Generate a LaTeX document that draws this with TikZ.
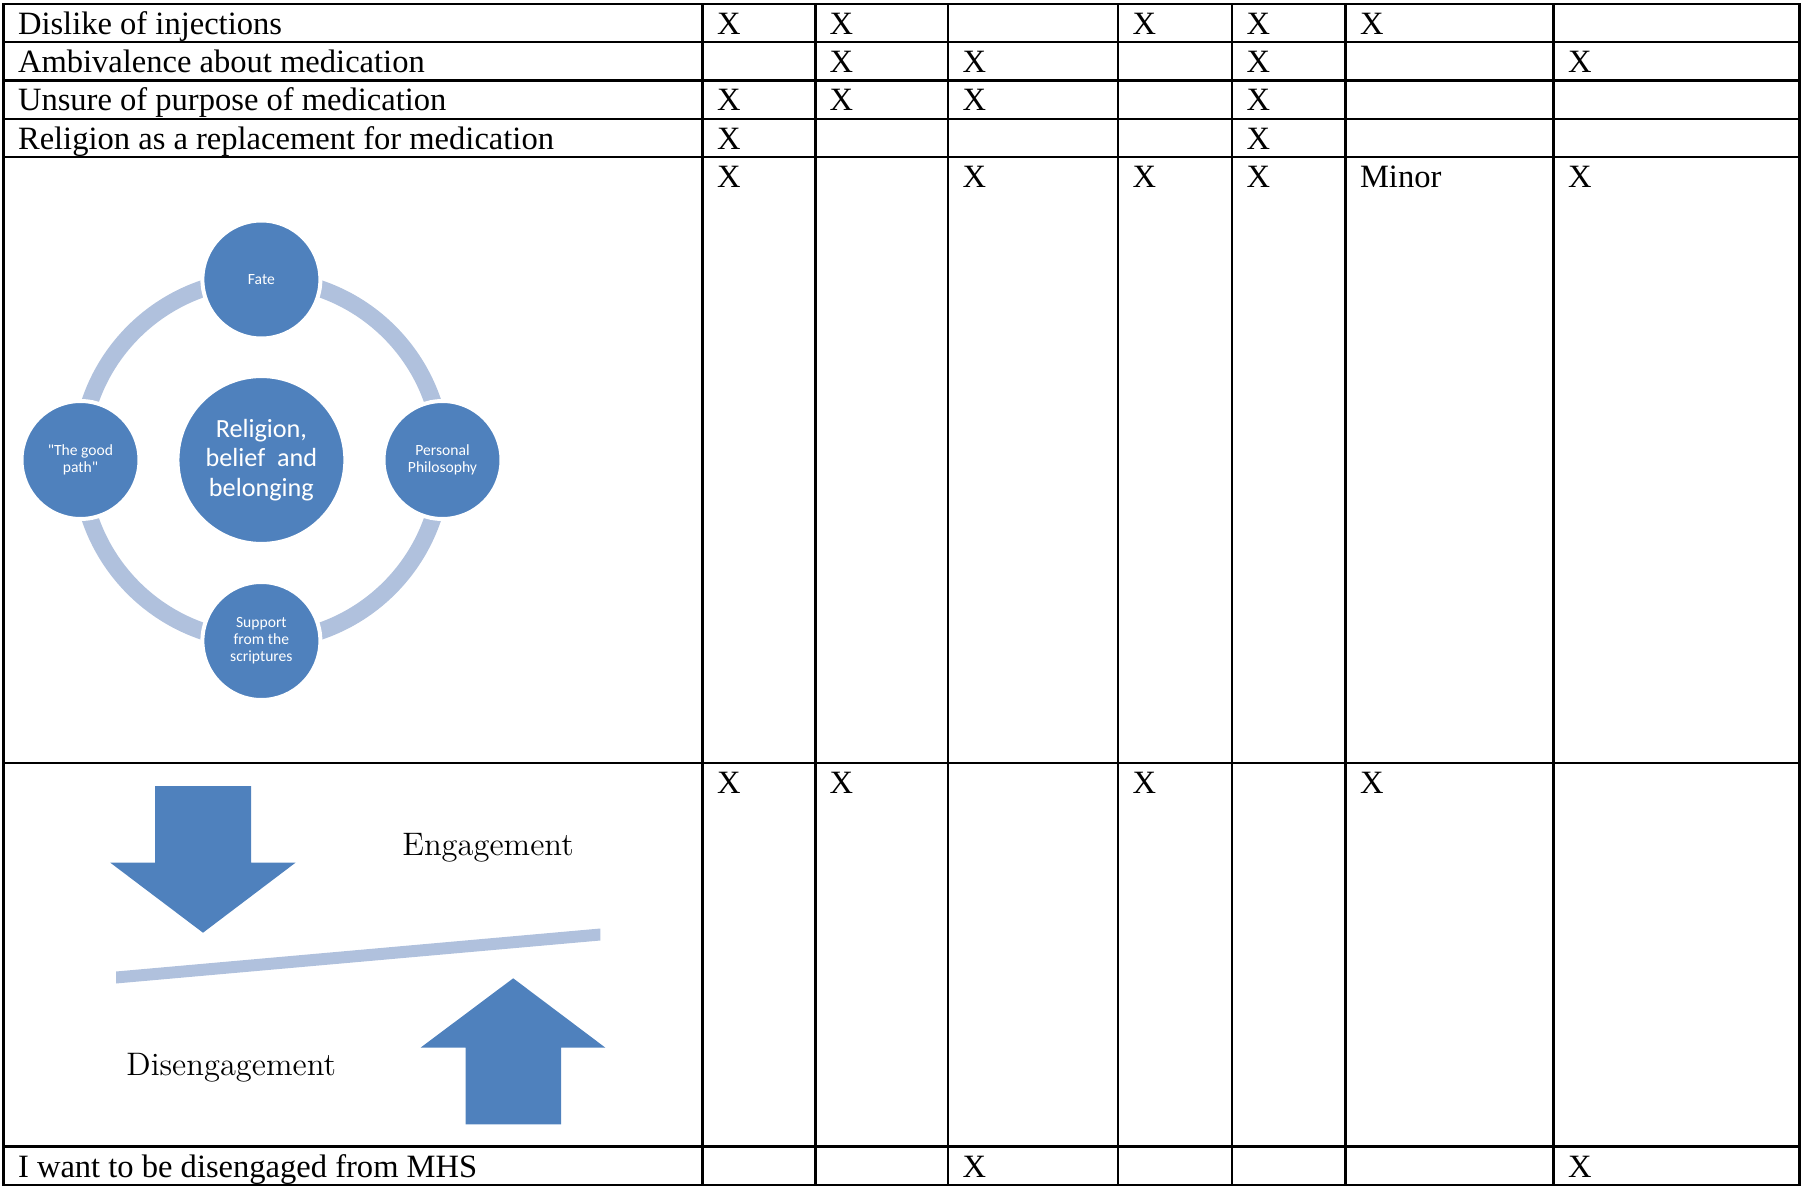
\documentclass[tikz,border=0pt]{standalone}
\usepackage{fontspec}
\newfontfamily\tabfont{Liberation Serif}
\newfontfamily\artfont{Carlito}
\definecolor{accent}{HTML}{4F81BD}
\definecolor{ringblue}{HTML}{B0C1DD}

\begin{document}
\begin{tikzpicture}[x=0.3687pt, y=-0.3687pt,
  gridrule/.style={line width=0.96pt, line cap=rect},
  celltext/.style={anchor=base west, inner sep=0pt, font=\tabfont\fontsize{12}{14}\selectfont},
  captiontext/.style={anchor=base west, inner sep=0pt, font=\fontsize{12}{14}\selectfont},
  bubble/.style={circle, fill=accent, draw=white, line width=1.47pt, minimum size=43.5pt,
    inner sep=0pt, text=white, align=center, font=\artfont\fontsize{5.75}{6.27}\selectfont},
  hub/.style={bubble, minimum size=61.9pt, font=\artfont\fontsize{9.66}{10.9}\selectfont},
  blockshape/.style={fill=accent},
  beam/.style={fill=ringblue}]

\useasboundingbox (0,0) rectangle (1804,1186);

% ---------- table grid ----------
\foreach \x in {3.5,702.5,815.5,948,1118,1232,1345.5,1553.5,1799.5}
  \draw[gridrule] (\x,4) -- (\x,1185);
\foreach \y in {4,42,80.5,119,157,763,1146.5,1185}
  \draw[gridrule] (3.5,\y) -- (1799.5,\y);

% column text origins and row baselines
\foreach \c/\x in {0/17.5,1/716.5,2/829,3/962,4/1132,5/1246,6/1359.5,7/1567.5}
  \coordinate (colx-\c) at (\x,0);
\foreach \r/\y in {1/34.5,2/72.5,3/111,4/149.5,5/187.5,6/793.5,7/1177}
  \coordinate (base-\r) at (0,\y);

% row headings
\node[celltext] (head-1) at (colx-0 |- base-1) {Dislike of injections};
\node[celltext] (head-2) at (colx-0 |- base-2) {Ambivalence about medication};
\node[celltext] (head-3) at (colx-0 |- base-3) {Unsure of purpose of medication};
\node[celltext] (head-4) at (colx-0 |- base-4) {Religion as a replacement for medication};
\node[celltext] (head-7) at (colx-0 |- base-7) {I want to be disengaged from MHS};

% marks
\foreach \c/\r in {1/1,2/1,4/1,5/1,6/1,
                   2/2,3/2,5/2,7/2,
                   1/3,2/3,3/3,5/3,
                   1/4,5/4,
                   1/5,3/5,4/5,5/5,7/5,
                   1/6,2/6,4/6,6/6,
                   3/7,7/7}
  \node[celltext] (mark-\c-\r) at (colx-\c |- base-\r) {X};
\node[celltext] (minor) at (colx-6 |- base-5) {Minor};

% ---------- radial cycle ----------
\coordinate (ringcentre) at (261.4,460);
\draw[ringblue, line width=6.27pt] (ringcentre) circle[radius=181];

\node[hub] (hub) at (ringcentre) {Religion,\\belief~ and\\belonging};
\node[bubble] (fate) at (261.4,279.5) {Fate};
\node[bubble] (philosophy) at (442.5,460) {Personal\\Philosophy};
\node[bubble] (scriptures) at (261.4,641) {Support\\from the\\scriptures};
\node[bubble] (goodpath) at (80.5,460) {"The good\\path"};

% ---------- balance ----------
\fill[blockshape] (155,786) -- (251,786) -- (251,862.7) -- (295.5,862.7)
  -- (203,932.7) -- (110.3,862.7) -- (155,862.7) -- cycle;
\fill[blockshape] (465.6,1124.3) -- (561.2,1124.3) -- (561.2,1047.7) -- (605.4,1047.7)
  -- (513.2,978.3) -- (420.5,1047.7) -- (465.6,1047.7) -- cycle;
\fill[beam] (116,971.5) -- (600.4,928.5) -- (600.4,940.5) -- (116,983.5) -- cycle;

\node[captiontext] (engagement) at (401.8,855) {Engagement};
\node[captiontext] (disengagement) at (125.9,1075) {Disengagement};

\end{tikzpicture}
\end{document}
